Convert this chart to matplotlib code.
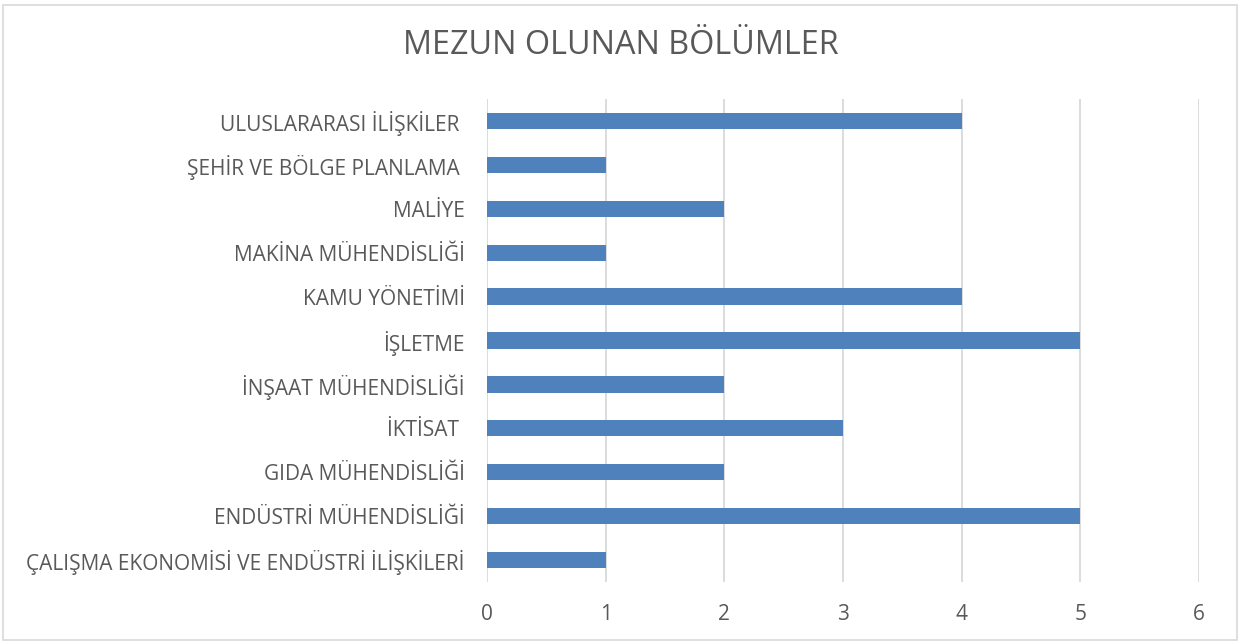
import matplotlib
matplotlib.use("Agg")
import matplotlib.pyplot as plt
from matplotlib.patches import Rectangle

plt.rcParams['font.family'] = ['Open Sans', 'DejaVu Sans']

bolumler = [
    "ÇALIŞMA EKONOMİSİ VE ENDÜSTRİ İLİŞKİLERİ",
    "ENDÜSTRİ MÜHENDİSLİĞİ",
    "GIDA MÜHENDİSLİĞİ",
    "İKTİSAT ",
    "İNŞAAT MÜHENDİSLİĞİ",
    "İŞLETME",
    "KAMU YÖNETİMİ",
    "MAKİNA MÜHENDİSLİĞİ",
    "MALİYE",
    "ŞEHİR VE BÖLGE PLANLAMA ",
    "ULUSLARARASI İLİŞKİLER ",
]
sayilar = [1, 5, 2, 3, 2, 5, 4, 1, 2, 1, 4]
x_ticks = [0, 1, 2, 3, 4, 5, 6]

text_color = "#595959"
bar_color = "#4F81BD"

fig = plt.figure(figsize=(12.42, 6.43), dpi=100)
ax = fig.add_axes([487 / 1242, 1 - 582 / 643, (1199 - 487) / 1242, (582 - 99) / 643])

ax.barh(bolumler, sayilar, height=0.37, color=bar_color, zorder=3)
ax.set_xlim(0, 6)
ax.set_ylim(-0.5, len(bolumler) - 0.5)
ax.set_xticks(x_ticks)
ax.grid(axis="x", color="#D9D9D9", linewidth=1.3, zorder=0)
for s in ax.spines.values():
    s.set_visible(False)
ax.tick_params(axis="both", length=0, colors=text_color, labelsize=15)
ax.tick_params(axis="x", pad=16)
ax.tick_params(axis="y", pad=16)

fig.text(0.5, 1 - 46 / 643, "MEZUN OLUNAN BÖLÜMLER", ha="center", va="center",
         fontsize=23.3, color=text_color)

# outer chart border
fig.patches.append(Rectangle((3 / 1242, 3 / 643), 1 - 8 / 1242, 1 - 8 / 643,
                             transform=fig.transFigure, fill=False,
                             edgecolor="#D9D9D9", linewidth=1.2))

fig.savefig("out.png", dpi=100)
